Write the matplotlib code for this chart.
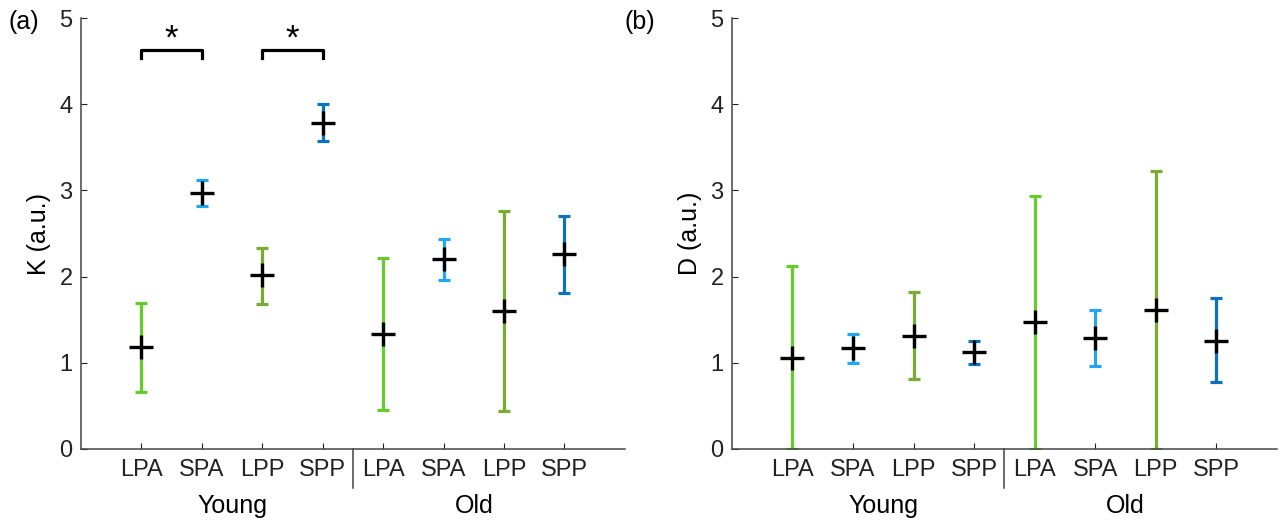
import numpy as np
import matplotlib
matplotlib.use("Agg")
import matplotlib.pyplot as plt

plt.rcParams['font.family'] = ['Liberation Sans', 'DejaVu Sans']

# data
groups = ["Young", "Old"]
regions = ["LPA", "SPA", "LPP", "SPP"]
tick_labels = regions + regions
region_colors = ["#66cc2e", "#22a6f0", "#77ac30", "#0d72bd"]

# panel (a): K
k_mean = [1.18, 2.97, 2.02, 3.78, 1.33, 2.20, 1.60, 2.26]
k_low = [0.66, 2.82, 1.68, 3.57, 0.45, 1.96, 0.44, 1.81]
k_high = [1.69, 3.12, 2.33, 4.00, 2.22, 2.44, 2.76, 2.70]

# panel (b): D
d_mean = [1.05, 1.17, 1.31, 1.12, 1.47, 1.29, 1.61, 1.25]
d_low = [0.00, 1.00, 0.81, 0.99, 0.00, 0.96, 0.00, 0.78]
d_high = [2.12, 1.34, 1.82, 1.25, 2.94, 1.61, 3.22, 1.75]

# significance pairs in panel (a) (1-based positions)
sig_pairs = [(1, 2), (3, 4)]
sig_level = 4.63


def draw_panel(ax, mean, low, high, ylabel):
    x = np.arange(1, len(mean) + 1)
    for i in range(len(mean)):
        c = region_colors[i % 4]
        ax.errorbar(x[i], mean[i],
                    yerr=[[mean[i] - low[i]], [high[i] - mean[i]]],
                    fmt='none', ecolor=c, elinewidth=2.3, capsize=4.5,
                    capthick=2.3, zorder=2)
    ax.plot(x, mean, linestyle='none', marker='+', color='black',
            markersize=17, markeredgewidth=2.4, zorder=3)

    ax.set_xlim(0, 9)
    ax.set_ylim(0, 5)
    ax.set_yticks(range(0, 6))
    ax.set_xticks(x)
    ax.set_xticklabels(tick_labels)
    ax.tick_params(direction='in', length=4, labelsize=17, colors='#222222',
                   pad=6)
    ax.tick_params(axis='x', pad=7)
    for s in ['top', 'right']:
        ax.spines[s].set_visible(False)
    for s in ['left', 'bottom']:
        ax.spines[s].set_color('#444444')
        ax.spines[s].set_linewidth(1.1)
    ax.set_ylabel(ylabel, fontsize=18, labelpad=6)

    # separator between groups
    ax.plot([4.5, 4.5], [0, -0.45], color='#444444', lw=1.1, clip_on=False)
    ax.text(2.5, -0.66, groups[0], ha='center', va='center', fontsize=18)
    ax.text(6.5, -0.66, groups[1], ha='center', va='center', fontsize=18)


fig = plt.figure(figsize=(12.85, 5.23), dpi=100)
ax1 = fig.add_axes([0.063, 0.1415, 0.4233, 0.824])
ax2 = fig.add_axes([0.5696, 0.1415, 0.424, 0.824])

draw_panel(ax1, k_mean, k_low, k_high, "K (a.u.)")
draw_panel(ax2, d_mean, d_low, d_high, "D (a.u.)")

fig.text(8 / 1285, 1 - 22 / 523, "(a)", ha='left', va='center', fontsize=18)
fig.text(624 / 1285, 1 - 22 / 523, "(b)", ha='left', va='center', fontsize=18)

# brackets with stars
for a, b in sig_pairs:
    ax1.plot([a, a, b, b], [sig_level - 0.09, sig_level, sig_level, sig_level - 0.09],
             color='black', lw=2.3, clip_on=False)
    ax1.text((a + b) / 2, sig_level + 0.13, "*", ha='center', va='center',
             fontsize=25)

fig.savefig("out.png", dpi=100)
